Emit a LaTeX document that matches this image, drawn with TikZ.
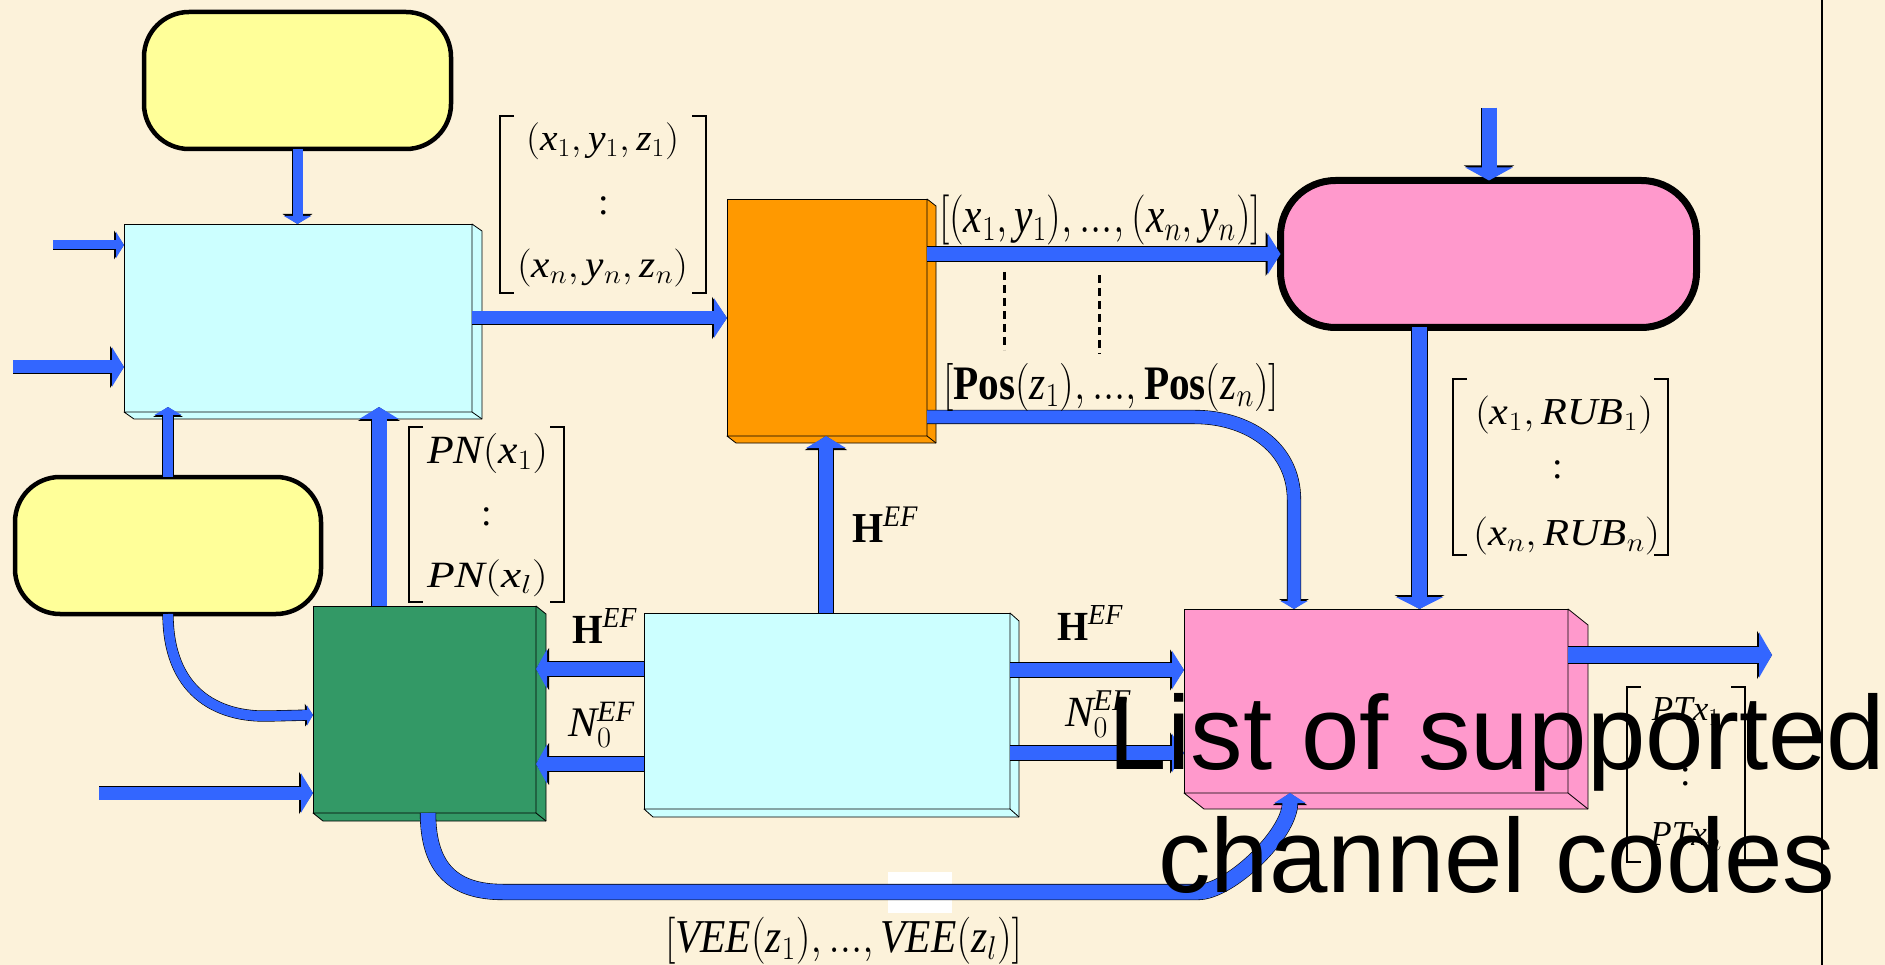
\RequirePackage{fix-cm}
\documentclass[tikz,border=0pt]{standalone}
\usepackage{fontspec}
\setmainfont{Liberation Serif}
\newfontfamily\bigsans{Liberation Sans}
\usepackage{graphicx}
\usetikzlibrary{arrows.meta,calc}
\definecolor{bgc}{RGB}{252,242,218}
\definecolor{yel}{RGB}{255,255,153}
\definecolor{cya}{RGB}{204,255,255}
\definecolor{ora}{RGB}{255,153,0}
\definecolor{grn}{RGB}{51,153,102}
\definecolor{pnk}{RGB}{255,153,204}
\definecolor{arb}{RGB}{51,102,255}
\newcommand\boxsides[4]{%
  \filldraw[draw=black, line width=0.8pt, fill=#4, line join=round]
   (#1.north east) -- ++(#2,#3) -- ($(#1.south east)+(#2,#3)$) -- ($(#1.south west)+(#2,#3)$)
   -- (#1.south west) -- (#1.south east) -- cycle;
  \draw[line width=0.8pt] (#1.south east) -- ++(#2,#3);}
\newcommand\sqbr[4]{%
  \draw[brl] (#1+14,#2) -- (#1,#2) -- (#1,#4) -- (#1+14,#4);
  \draw[brl] (#3-14,#2) -- (#3,#2) -- (#3,#4) -- (#3-14,#4);}
\tikzset{
  rbox/.style={draw=black, inner sep=0pt, outer sep=0pt},
  fbox/.style={draw=black, line width=0.8pt, inner sep=0pt, outer sep=0pt},
  lbl/.style={inner sep=0pt, outer sep=0pt, anchor=north west, font=\fontsize{32}{38}\selectfont},
  mrow/.style={inner sep=0pt, outer sep=0pt, anchor=base, font=\fontsize{38}{44}\selectfont},
  brl/.style={draw=black, line width=2pt, line join=miter},
  blk/.code n args={3}{%
    \pgfmathsetmacro\blkA{#1+1.2}\pgfmathsetmacro\blkB{#2+2.4}\pgfmathsetmacro\blkC{#3+2}%
    \tikzset{draw=arb, line width=#1pt, -{Triangle[width=#2pt,length=#3pt]},
      preaction={draw=black, line width=\blkA pt, -{Triangle[width=\blkB pt,length=\blkC pt]}}}},
  dotl/.style={draw=black, line width=3pt, dash pattern=on 8pt off 5pt}
}
\begin{document}
\begin{tikzpicture}[x=1pt,y=-1pt]
\useasboundingbox (0,0) rectangle (1885,965);
\fill[bgc] (0,0) rectangle (1885,965);
\fill[white] (888,872) rectangle (952,913);
\draw[line width=1.5pt] (1822,0) -- (1822,965);

% rounded boxes
\node[rbox, line width=4.5pt, fill=yel, rounded corners=45pt, minimum width=307pt, minimum height=137pt] (y1) at (297.5,80.5) {};
\node[rbox, line width=4.5pt, fill=yel, rounded corners=45pt, minimum width=306pt, minimum height=137pt] (y2) at (168,545.5) {};
\node[rbox, line width=7pt, fill=pnk, rounded corners=55pt, minimum width=416pt, minimum height=147pt] (p1) at (1488.5,254) {};

% 3D boxes
\node[fbox, fill=cya, minimum width=348pt, minimum height=188pt] (c1) at (298,318) {};
\boxsides{c1}{10}{7}{cya}
\node[fbox, fill=ora, minimum width=200pt, minimum height=237pt] (o1) at (827,317.5) {};
\boxsides{o1}{9}{7}{ora}
\node[fbox, fill=grn, minimum width=223pt, minimum height=207pt] (g1) at (424.5,709.5) {};
\boxsides{g1}{10}{8}{grn}
\node[fbox, fill=cya, minimum width=366pt, minimum height=196pt] (c2) at (827,711) {};
\boxsides{c2}{9}{8}{cya}
\node[fbox, fill=pnk, minimum width=384pt, minimum height=184pt] (p2) at (1376,701) {};
\boxsides{p2}{20}{16}{pnk}

% free ends
\coordinate (in1) at (53,245);
\coordinate (in2) at (13,367);
\coordinate (in3) at (99,793);
\coordinate (in4) at (1489,108);
\coordinate (out1) at (1772,655);

% dotted lines
\draw[dotl] (1004,272) -- (1004,350);
\draw[dotl] (1099,275) -- (1099,354);

% arrows
\draw[blk={10}{27}{8}] (y1.south) -- (y1.south |- c1.north);
\draw[blk={9}{26}{8}] (in1) -- (in1 -| c1.west);
\draw[blk={13}{39}{12}] (in2) -- (in2 -| c1.west);
\draw[blk={13}{39}{13}] (c1.east |- 0,318) -- (o1.west |- 0,318);
\draw[blk={10}{27}{8}, shorten >=-5pt] (y2.north) -- (y2.north |- c1.south);
\draw[blk={15}{39}{12}, shorten >=-5pt] (379,0 |- g1.north) -- (379,0 |- c1.south);
\draw[blk={10}{20}{6}] (y2.south) .. controls (168,690) and (215,718) .. (270,716) -- (g1.west |- 0,715);
\draw[blk={13}{39}{12}] (in3) -- (in3 -| g1.west);
\draw[blk={14}{39}{11}] (c2.west |- 0,669) -- (g1.east |- 0,669);
\draw[blk={14}{39}{11}] (c2.west |- 0,764) -- (g1.east |- 0,764);
\draw[blk={14}{39}{12}] (826,0 |- c2.north) -- (826,0 |- o1.south);
\draw[blk={14}{38}{12}] (c2.east |- 0,670) -- (p2.west |- 0,670);
\draw[blk={14}{38}{12}] (c2.east |- 0,753) -- (p2.west |- 0,753);
\draw[blk={16}{45}{13}] (p2.east |- out1) -- (out1);
\draw[blk={14}{41}{13}] (o1.east |- 0,254) -- (p1.west |- 0,254);
\draw[blk={15}{47}{13}] (in4) -- (in4 |- p1.north);
\draw[blk={15}{47}{12}] (1419.5,0 |- p1.south) -- (1419.5,0 |- p2.north);
\draw[blk={13}{27}{8}] (o1.east |- 0,417) -- (1195,417) .. controls (1245,417) and (1294,445) .. (1294,500) -- (1294,0 |- p2.north);
\draw[blk={15}{31}{10}] (428,0 |- g1.south) .. controls (428,870) and (455,892) .. (503,892) -- (1198,892) .. controls (1230,892) and (1290,834) .. (1290,803) -- (1290,0 |- p2.south);

% matrix labels: brackets and rows
\sqbr{500}{116}{706}{293}
\node[lbl] (L1a) at (526,123) {\resizebox*{153pt}{37pt}{$(\mathit{x}_1, \mathit{y}_1, \mathit{z}_1)$}};
\node[mrow] (L1b) at (604,215) {:};
\node[lbl] (L1c) at (517,249) {\resizebox*{171pt}{38pt}{$(\mathit{x}_n, \mathit{y}_n, \mathit{z}_n)$}};

\sqbr{409}{427}{564}{602}
\node[lbl] (L4a) at (427,433) {\resizebox*{121pt}{40pt}{$\mathit{PN}(\mathit{x}_1)$}};
\node[mrow] (L4b) at (487,525) {:};
\node[lbl] (L4c) at (427,560) {\resizebox*{121pt}{37pt}{$\mathit{PN}(\mathit{x}_l)$}};

\sqbr{1453}{379}{1668}{555}
\node[lbl] (L5a) at (1475,396) {\resizebox*{178pt}{38pt}{$(\mathit{x}_1, \mathit{RUB}_1)$}};
\node[mrow] (L5b) at (1558,478) {:};
\node[lbl] (L5c) at (1473,517) {\resizebox*{187pt}{38pt}{$(\mathit{x}_n, \mathit{RUB}_n)$}};

\sqbr{1627}{687}{1745}{862}
\node[mrow, font=\fontsize{35}{42}\selectfont] (L6a) at (1686,720) {$\mathit{PTx}_1$};
\node[mrow] (L6b) at (1686,785) {:};
\node[mrow, font=\fontsize{35}{42}\selectfont] (L6c) at (1686,845) {$\mathit{PTx}_n$};

% single-line labels
\node[lbl] (L2) at (939,195) {\resizebox*{322pt}{50pt}{$\left[(\mathit{x}_1, \mathit{y}_1),...,(\mathit{x}_n, \mathit{y}_n)\right]$}};
\node[lbl] (L3) at (943,363) {\resizebox*{336pt}{48pt}{$\left[\mathbf{Pos}(\mathit{z}_1),...,\mathbf{Pos}(\mathit{z}_n)\right]$}};
\node[lbl] (L7) at (665,917) {\resizebox*{357pt}{47pt}{$\left[\mathit{VEE}(\mathit{z}_1),...,\mathit{VEE}(\mathit{z}_l)\right]$}};
\node[lbl] (H1) at (572,609) {\resizebox*{65pt}{34pt}{$\mathbf{H}^{\mathit{EF}}$}};
\node[lbl] (N1) at (568,702) {\resizebox*{67pt}{45pt}{$\mathit{N}_0^{\mathit{EF}}$}};
\node[lbl] (H2) at (852,507) {\resizebox*{66pt}{35pt}{$\mathbf{H}^{\mathit{EF}}$}};
\node[lbl] (H3) at (1057,606) {\resizebox*{66pt}{34pt}{$\mathbf{H}^{\mathit{EF}}$}};
\node[lbl] (N2) at (1065,691) {\resizebox*{66pt}{46pt}{$\mathit{N}_0^{\mathit{EF}}$}};

% big text
\node[anchor=north, align=center, inner sep=0pt, font=\bigsans\fontsize{105}{123}\selectfont] (lst) at (1497,693.5) {List of supported\\channel codes};
\end{tikzpicture}
\end{document}
